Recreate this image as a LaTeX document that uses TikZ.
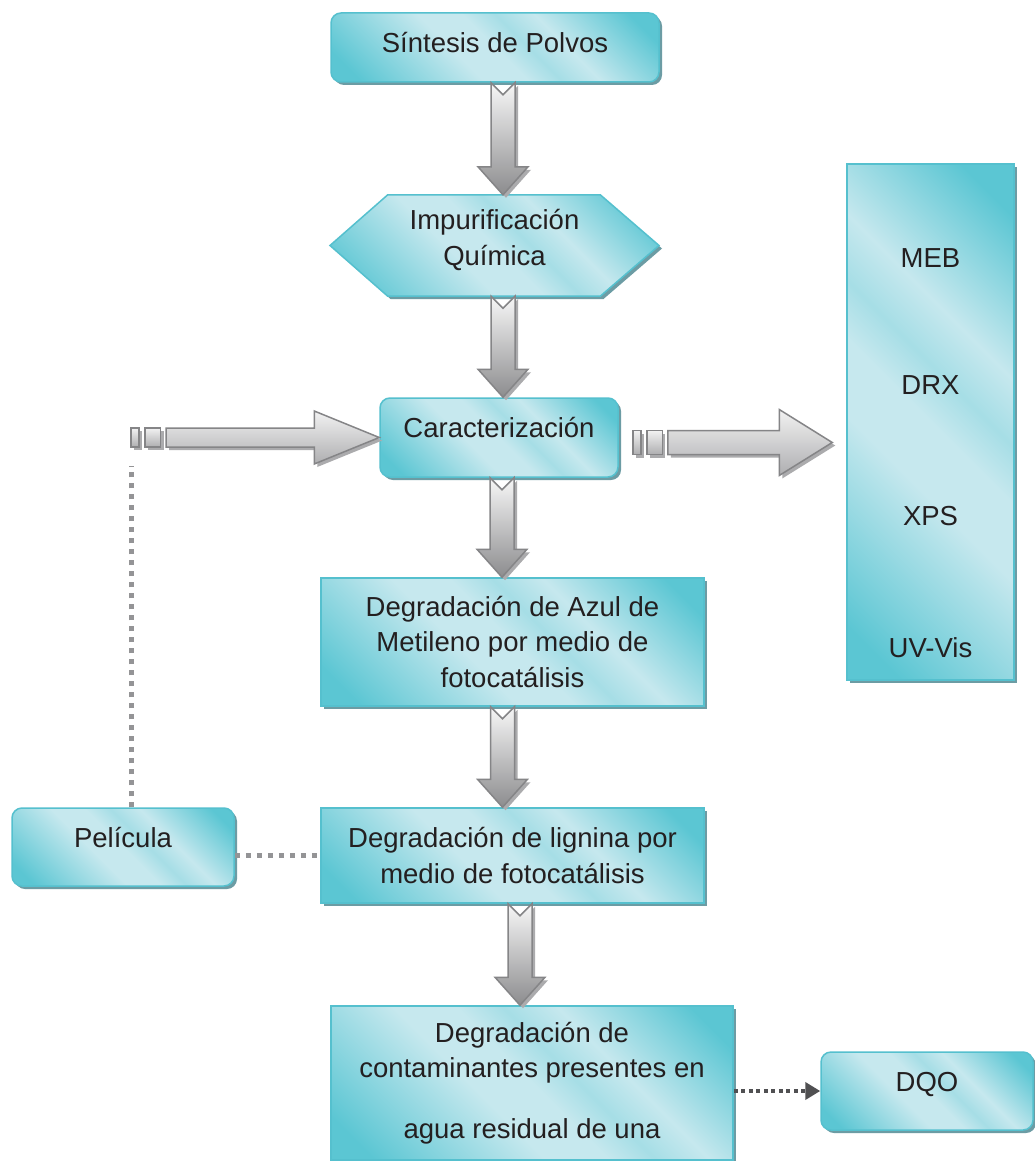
\documentclass[tikz,border=0pt]{standalone}
\usepackage{fontspec}
\setmainfont{Liberation Sans}
\usetikzlibrary{calc,arrows.meta}
\definecolor{tD}{HTML}{5BC6D3}
\definecolor{tL}{HTML}{C6E8EE}
\colorlet{tM}{tL!70!tD}
\definecolor{tB}{HTML}{55C0CE}
\definecolor{tS}{HTML}{6C9CA4}
\definecolor{aO}{HTML}{858587}
\definecolor{aS}{HTML}{ABABAD}
\definecolor{vT}{HTML}{F7F7F7}
\definecolor{vB}{HTML}{8C8C8E}
\definecolor{hT}{HTML}{F2F2F2}
\definecolor{hB}{HTML}{AEAEB0}
\definecolor{txt}{HTML}{231F20}
\definecolor{dotG}{HTML}{949496}
\definecolor{dotD}{HTML}{505052}
\pgfdeclarehorizontalshading{tealsh}{100bp}{color(0bp)=(tD); color(20bp)=(tD); color(42bp)=(tL); color(50bp)=(tL); color(56bp)=(tM); color(63bp)=(tL); color(80bp)=(tD); color(100bp)=(tD)}

\newcommand\blkdown[3]{%
  \coordinate (T) at (#1,0 |- #2.south);
  \coordinate (B) at (#1,0 |- #3.north);
  \foreach \ox/\oy/\sty in {3/3/ashadow,0/0/vbody}{%
    \path[\sty] ($(T)+(-12+\ox,\oy)$) -- ($(T)+(\ox,12+\oy)$) -- ($(T)+(12+\ox,\oy)$)
      -- ($(B)+(12+\ox,-28+\oy)$) -- ($(B)+(25+\ox,-28+\oy)$) -- ($(B)+(\ox,\oy)$)
      -- ($(B)+(-25+\ox,-28+\oy)$) -- ($(B)+(-12+\ox,-28+\oy)$) -- cycle;
  }}

\newcommand\blkright[5]{%
  \foreach \ox/\oy/\sty in {3/3/ashadow,0/0/hbody}{%
    \path[\sty] ($(#1)+(\ox,-#3+\oy)$) rectangle ($(#1)+(8+\ox,#3+\oy)$);
    \path[\sty] ($(#1)+(14+\ox,-#3+\oy)$) rectangle ($(#1)+(29.5+\ox,#3+\oy)$);
    \path[\sty] ($(#1)+(35+\ox,-#3+\oy)$) -- ($(#2)+(-#5+\ox,-#3+\oy)$)
      -- ($(#2)+(-#5+\ox,-#4+\oy)$) -- ($(#2)+(\ox,\oy)$) -- ($(#2)+(-#5+\ox,#4+\oy)$)
      -- ($(#2)+(-#5+\ox,#3+\oy)$) -- ($(#1)+(35+\ox,#3+\oy)$) -- cycle;
  }}

\begin{document}
\begin{tikzpicture}[x=1pt,y=-1pt,
  boxfill/.style={draw=tB, line width=1.5pt, shading=tealsh, shading angle=45,
    preaction={fill=tS, transform canvas={shift={(3pt,-3pt)}}}},
  txtnode/.style={font=\fontsize{27.5}{35.5}\selectfont, text=txt, align=center, inner sep=0pt},
  tbox/.style={boxfill, txtnode},
  rbox/.style={tbox, rounded corners=10pt},
  onel/.style={text height=20pt, text depth=20pt},
  sbx/.style={text height=24pt, text depth=14pt},
  vbody/.style={draw=aO, line width=1.5pt, top color=vT, bottom color=vB},
  hbody/.style={draw=aO, line width=1.5pt, top color=hT, bottom color=hB},
  ashadow/.style={fill=aS, draw=none},
  pdot/.style={draw=dotG, line width=5pt, dash pattern=on 5pt off 6pt},
  ddot/.style={draw=dotD, line width=4.5pt, dash pattern=on 4pt off 3.5pt,
    -{Triangle[length=15pt,width=17pt]}}
]
\fill[white] (0,0) rectangle (1034,1161);
\useasboundingbox (0,0) rectangle (1034,1161);

% boxes
\node[rbox, sbx, minimum width=328, minimum height=69] (s) at (495,47.5) {Síntesis de Polvos};

\coordinate (hc) at (494.5,245.5);
\path[boxfill] ($(hc)+(-164.5,0)$) -- ($(hc)+(-107,-50.5)$) -- ($(hc)+(106,-50.5)$)
  -- ($(hc)+(164.5,0)$) -- ($(hc)+(106,50.5)$) -- ($(hc)+(-107,50.5)$) -- cycle;
\node[txtnode, minimum width=329, minimum height=101, text depth=16pt] (h) at (hc) {Impurificación\\Química};

\node[rbox, onel, minimum width=238, minimum height=79] (c) at (499,437.5) {Caracterización};
\node[tbox, minimum width=383, minimum height=128] (a) at (512.5,642) {Degradación de Azul de\\Metileno por medio de\\fotocatálisis};
\node[tbox, minimum width=383, minimum height=95] (l) at (512.5,855.5) {Degradación de lignina por\\medio de fotocatálisis};
\node[tbox, minimum width=402, minimum height=154] (w) at (532,1083) {Degradación de\\contaminantes presentes en\\[25pt]agua residual de una};
\node[rbox, onel, minimum width=222, minimum height=78] (p) at (123,847) {Película};
\node[rbox, onel, minimum width=212, minimum height=78] (d) at (927,1091) {DQO};

\node[tbox, minimum width=167, minimum height=516] (t) at (930.5,422) {};
\node[txtnode] (t1) at (930.5,258) {MEB};
\node[txtnode] (t2) at (930.5,385) {DRX};
\node[txtnode] (t3) at (930.5,516) {XPS};
\node[txtnode] (t4) at (930.5,648) {UV-Vis};

% vertical block arrows
\blkdown{503}{s}{h}
\blkdown{503}{h}{c}
\blkdown{502}{c}{a}
\blkdown{502.5}{a}{l}
\blkdown{520}{l}{w}

% horizontal block arrows
\coordinate (la) at (131,0 |- c.west);
\blkright{la}{c.west}{9.5}{26.5}{65}
\coordinate (ra) at ($(c.east)+(14,5)$);
\coordinate (rb) at ($(t.west |- ra)+(-14,0)$);
\blkright{ra}{rb}{12}{33}{53}

% dotted connectors
\draw[pdot] (la |- p.north) -- ($(la)+(0,28)$);
\draw[pdot] (p.east |- l.west) -- (l.west);
\draw[ddot] (w.east |- d.west) -- (d.west);
\end{tikzpicture}
\end{document}
